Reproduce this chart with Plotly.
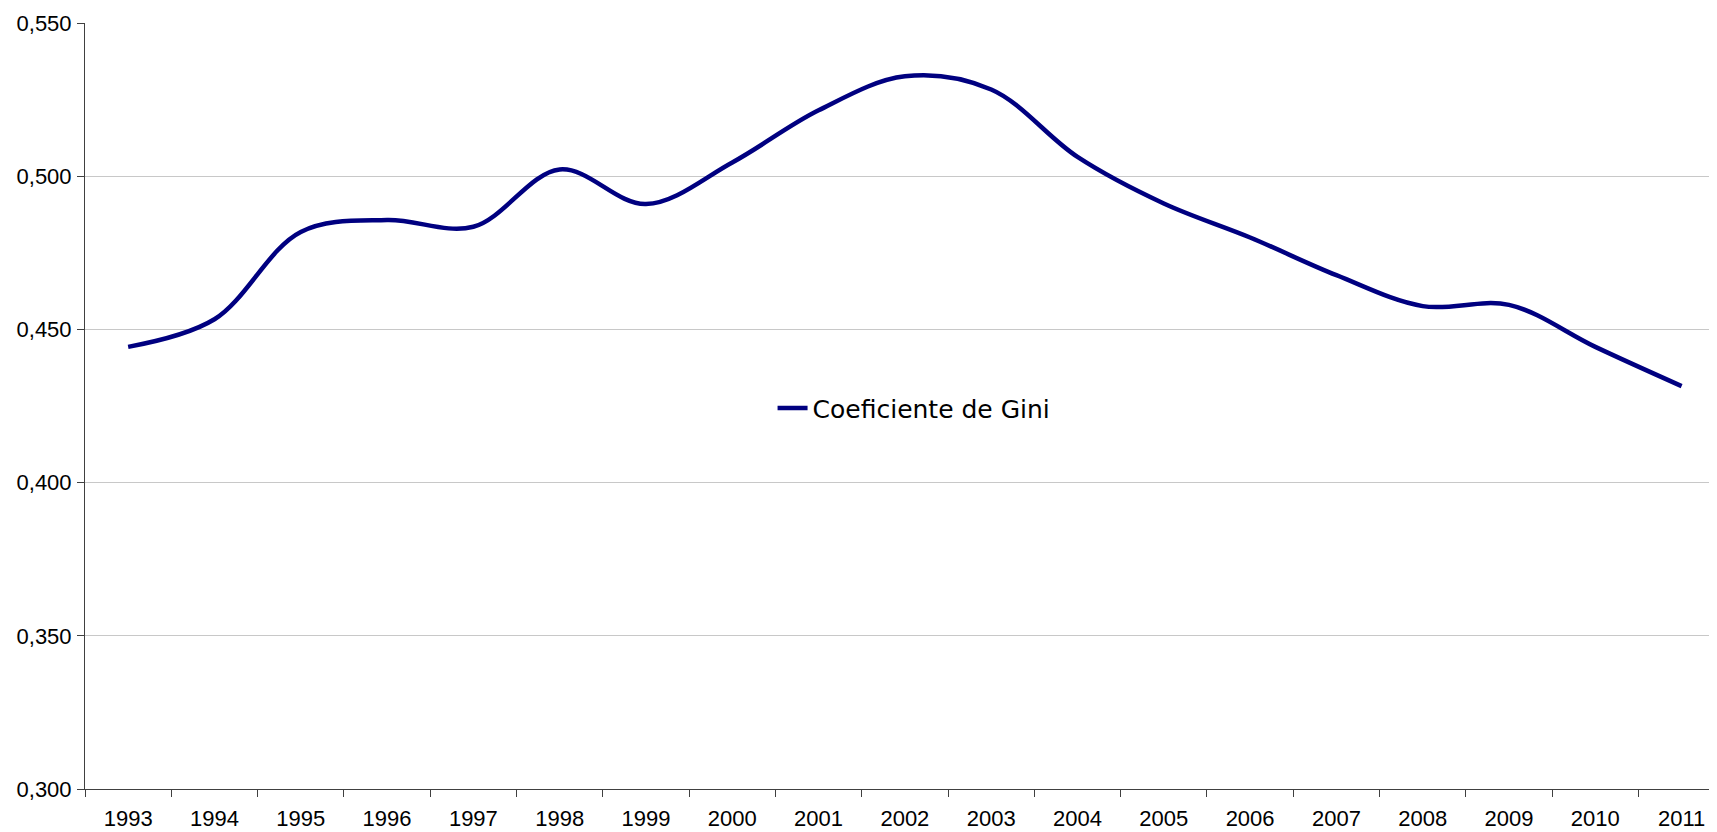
import plotly.graph_objects as go

years = ["1993", "1994", "1995", "1996", "1997", "1998", "1999", "2000", "2001", "2002",
         "2003", "2004", "2005", "2006", "2007", "2008", "2009", "2010", "2011"]
gini = [0.4443, 0.4533, 0.4818, 0.4857, 0.4835, 0.5022, 0.4909, 0.5045, 0.5215, 0.5326,
        0.5283, 0.5063, 0.4911, 0.4800, 0.4677, 0.4576, 0.4580, 0.4443, 0.4315]
y_ticks = [0.30, 0.35, 0.40, 0.45, 0.50, 0.55]
series_name = "Coeficiente de Gini"

fig = go.Figure()
fig.add_trace(go.Scatter(
    x=years, y=gini, mode="lines", name=series_name,
    line=dict(color="#000080", width=4.5, shape="spline", smoothing=1.0),
    showlegend=True,
))

axis_font = dict(family="Liberation Sans, Arial, sans-serif", size=22, color="#000000")

# the page body adds an 8px offset; margins compensate for it
fig.update_layout(
    width=1717, height=832,
    margin=dict(l=77, r=8, t=15, b=51, autoexpand=False),
    paper_bgcolor="white", plot_bgcolor="white",
    separators=",.",
    showlegend=True,
    legend=dict(
        x=0.4213, y=0.497, xanchor="left", yanchor="middle",
        font=dict(family="DejaVu Sans, sans-serif", size=25, color="#000000"),
        bgcolor="rgba(0,0,0,0)",
    ),
    xaxis=dict(
        type="category",
        range=[-0.5, 18.41],
        tickson="boundaries",
        ticks="outside", ticklen=7, tickcolor="#404040", tickwidth=1,
        showline=True, linecolor="#404040", linewidth=1,
        showgrid=False, zeroline=False,
        tickfont=axis_font,
        ticklabelstandoff=10,
        automargin=False,
    ),
    yaxis=dict(
        range=[0.30, 0.55],
        tickmode="array", tickvals=y_ticks,
        tickformat=".3f",
        ticks="outside", ticklen=7, tickcolor="#404040", tickwidth=1,
        showline=True, linecolor="#404040", linewidth=1,
        showgrid=True, gridcolor="#c8c8c8", gridwidth=1,
        zeroline=False,
        tickfont=axis_font,
        ticklabelstandoff=1,
        automargin=False,
    ),
)

fig.write_html("out.html")
